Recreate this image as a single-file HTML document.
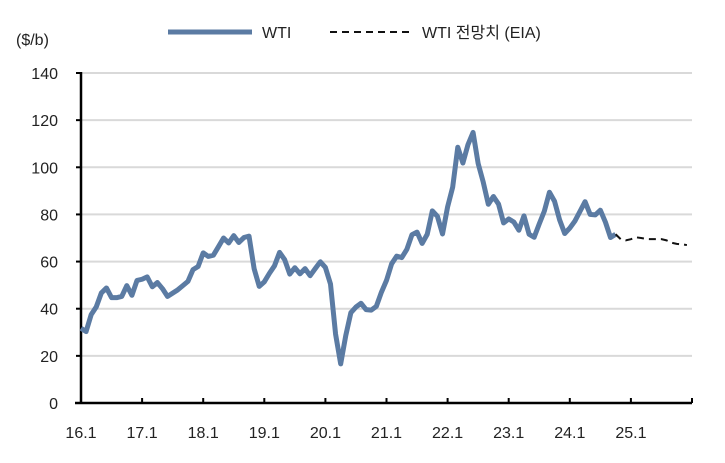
<!DOCTYPE html>
<html><head><meta charset="utf-8">
<style>
body{margin:0;background:#fff;}
svg text{font-family:"Liberation Sans","Noto Sans CJK KR",sans-serif;fill:#222;}
</style></head>
<body>
<svg id="chart" width="725" height="458" viewBox="0 0 725 458" xmlns="http://www.w3.org/2000/svg">
<text x="16" y="45" font-size="16">($/b)</text>
<g>
<line x1="168" y1="32" x2="252" y2="32" stroke="#5b7ba3" stroke-width="5"/>
<text x="262" y="38" font-size="16">WTI</text>
<line x1="330" y1="32" x2="412" y2="32" stroke="#111" stroke-width="2" stroke-dasharray="7,5"/>
<text x="422" y="38" font-size="16">WTI 전망치 (EIA)</text>
</g>
<g id="grid"></g><g id="axes"></g><g id="series"></g>
</svg>
<script>
const yTicks=[0,20,40,60,80,100,120,140];
const xLabels=["16.1","17.1","18.1","19.1","20.1","21.1","22.1","23.1","24.1","25.1"];
const wti=[31.7,30.3,37.5,40.8,46.7,48.8,44.7,44.7,45.2,49.8,45.7,52.0,
52.5,53.5,49.3,51.1,48.5,45.2,46.6,48.0,49.8,51.6,56.6,57.9,
63.7,62.2,62.7,66.3,70.0,67.9,71.0,68.1,70.2,70.8,57.0,49.5,
51.4,55.0,58.2,63.9,60.8,54.7,57.4,54.8,57.0,54.0,57.0,59.9,
57.5,50.5,29.2,16.6,28.6,38.3,40.7,42.3,39.6,39.4,41.0,47.0,
52.0,59.0,62.3,61.7,65.2,71.4,72.5,67.7,71.6,81.5,79.2,71.7,
83.2,91.6,108.5,101.8,109.6,114.8,101.6,93.7,84.3,87.6,84.4,76.4,
78.1,76.8,73.3,79.4,71.6,70.3,76.0,81.4,89.4,85.6,77.7,71.9,
74.2,77.2,81.3,85.4,80.0,79.8,81.8,76.7,70.2,71.6];
const forecastStart=105;
const forecast=[71.6,69.5,69.0,69.5,70.3,70.0,69.6,69.5,69.5,69.5,69.0,68.0,67.5,67.3,67.0];
const NS="http://www.w3.org/2000/svg";
const X0=81,X1=692,Y0=403,Y1=73,months=120;
const xs=i=>X0+i*(X1-X0)/months;
const ys=v=>Y0-v*(Y0-Y1)/140;
function mk(tag,attrs,parent){const e=document.createElementNS(NS,tag);for(const k in attrs)e.setAttribute(k,attrs[k]);parent.appendChild(e);return e;}
const grid=document.getElementById('grid'),axes=document.getElementById('axes'),series=document.getElementById('series');
yTicks.forEach(v=>{
 if(v>0){const g=mk('line',{x1:X0,x2:X1,y1:ys(v),y2:ys(v),stroke:'#d9d9d9','stroke-width':2},grid);
 
 }
 const t=mk('line',{x1:X0-5,x2:X0,y1:ys(v),y2:ys(v),stroke:'#000','stroke-width':2},axes);
 
 
 const l=mk('text',{x:58,y:ys(v)+6,'text-anchor':'end','font-size':16},axes);l.textContent=v;
 
 
});
const ya=mk('line',{x1:X0,x2:X0,y1:Y1-1,y2:Y0+1,stroke:'#000','stroke-width':2.5},axes);


const xa=mk('line',{x1:X0-6,x2:X1,y1:Y0,y2:Y0,stroke:'#000','stroke-width':2.5},axes);


for(let k=0;k<=10;k++){const t=mk('line',{x1:xs(k*12),x2:xs(k*12),y1:Y0-5,y2:Y0,stroke:'#000','stroke-width':2},axes);
 
 }
xLabels.forEach((s,k)=>{const l=mk('text',{x:xs(k*12),y:Y0+35,'text-anchor':'middle','font-size':16},axes);l.textContent=s;
 
 });
const p1=mk('polyline',{points:wti.map((v,i)=>xs(i)+','+ys(v)).join(' '),fill:'none',stroke:'#5b7ba3','stroke-width':5,'stroke-linejoin':'round'},series);


const p2=mk('polyline',{points:forecast.map((v,i)=>xs(forecastStart+i)+','+ys(v)).join(' '),fill:'none',stroke:'#111','stroke-width':2,'stroke-dasharray':'7,5'},series);


</script>
</body></html>
